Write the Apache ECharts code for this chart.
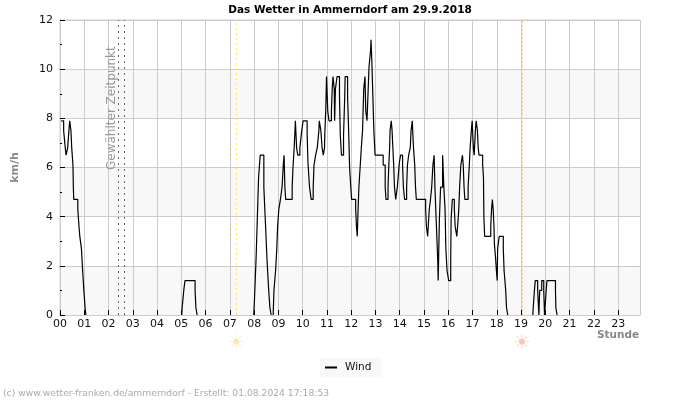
<!DOCTYPE html>
<html><head><meta charset="utf-8">
<script src="https://cdn.jsdelivr.net/npm/echarts@6/dist/echarts.min.js"></script>
<style>html,body{margin:0;padding:0;background:#fff}#c{width:700px;height:400px}</style>
</head><body><div id="c"></div>
<script>
const title = 'Das Wetter in Ammerndorf am 29.9.2018';
const credit = '(c) www.wetter-franken.de/ammerndorf - Erstellt: 01.08.2024 17:18:53';
// [minute of day, wind km/h]; null = calm, no line drawn
const windNight = [[3,7.9],[9,7.5],[13,6.8],[15,6.5],[19,6.8],[22,7.5],[24,7.9],[27,7.5],[29,6.8],[32,6.1],[33,5.2],[34,4.7],[44,4.3],[47,3.6],[49,3.2],[53,2.7],[56,1.8],[59,1.0],[62,0.3],[64,0],[65,null],
 [301,0],[302,0.3],[306,1.0],[309,1.4],[334,1.0],[336,0.3],[339,0],[340,null]];
const windMorning = [[479,0],[481,0.7],[485,2.4],[488,4.0],[491,5.6],[495,6.5],[504,5.2],[508,3.7],[512,2.2],[516,1.0],[519,0.3],[522,0],[523,null],
 [527,0],[529,1.0],[533,1.8],[536,2.7],[538,3.6],[541,4.3],[545,4.7],[549,5.2],[552,6.1],[554,6.5],[556,5.2],[558,4.7],[574,5.2],[576,6.0],[579,6.8],[582,7.9],[585,6.8],[588,6.5],[593,6.8],[597,7.4],[601,7.9],[611,7.4],[613,6.2],[617,5.2],[621,4.7],[626,5.2],[628,6.1],[632,6.5],[636,6.8],[640,7.5],[641,7.9]];
const windNoon = [[645,7.5],[648,6.8],[651,6.5],[654,6.8],[655,7.5],[657,8.3],[659,9.7],[660,9.2],[662,8.3],[665,7.9],[671,8.3],[673,9.2],[675,9.7],[678,9.2],[679,7.9],[681,9.2],[685,9.7],[691,8.9],[693,7.3],[696,6.5],[701,7.3],[704,8.9],[705,9.7],[711,8.9],[714,7.3],[716,6.0],[719,5.2],[721,4.7],[731,4.3],[733,3.6],[735,3.2],[737,4.3],[739,5.2],[742,6.0],[745,6.8],[748,7.5],[751,9.2],[754,9.7],[756,8.3],[759,7.9],[762,9.2],[764,10.1],[768,10.8],[769,11.2],[771,10.3],[773,9.2],[776,7.5],[779,6.5]];
const windAfternoon = [[799,6.1],[804,5.2],[806,4.7],[811,5.2],[813,6.1],[815,6.8],[816,7.5],[819,7.9],[821,7.5],[823,6.8],[825,6.1],[827,5.2],[830,4.7],[834,5.2],[836,5.6],[839,6.2],[842,6.5],[847,6.1],[849,5.2],[852,4.7],[857,5.2],[859,6.1],[862,6.5],[866,6.8],[868,7.5],[871,7.9],[872,7.5],[874,6.8],[877,6.1],[879,5.2],[881,4.7],
 [904,4.3],[906,3.6],[909,3.2],[913,4.3],[916,4.7],[919,5.2],[922,6.1],[925,6.5],[927,5.2],[930,3.9],[934,2.2],[935,1.4],[936,2.2],[938,3.9],[941,5.2],[946,6.5],[947,6.1],[949,5.2],[952,4.3],[954,2.7],[957,1.8],[961,1.4],
 [966,2.3],[967,3.9],[970,4.7],[975,4.3],[977,3.6],[981,3.2],[983,3.6],[986,4.3],[988,5.2],[991,6.1],[995,6.5],[997,6.1],[999,5.2],[1001,4.7],[1009,5.2],[1012,6.1],[1014,6.8],[1017,7.5],[1019,7.9],[1022,6.8],[1024,6.5],[1027,7.5],[1029,7.9],[1032,7.5],[1034,6.8],[1036,6.5]];
const windEvening = [[1045,6.1],[1047,5.6],[1048,4.0],[1050,3.2],[1065,3.6],[1067,4.3],[1069,4.7],[1071,4.3],[1073,3.6],[1074,2.9],[1077,2.3],[1079,1.8],[1081,1.4],[1082,2.7],[1086,3.2],[1096,2.7],[1098,1.8],[1102,1.0],[1104,0.3],[1107,0],[1108,null],
 [1169,0],[1170,0.3],[1173,1.0],[1175,1.4],[1181,1.0],[1184,0],[1186,1.0],[1189,1.0],[1191,1.4],[1196,1.0],[1198,0],[1202,1.0],[1204,1.4],[1225,1.0],[1226,0.3],[1229,0],[1230,null]];
const selectedMinutes = [145, 160];
const sunriseMinute = 436;
const sunsetMinute = 1142;
const yTicks = [0, 12, 2];

const sunPath = 'path://M50 28a22 22 0 1 0 .01 0zM47 0h6v18h-6zM47 82h6v18h-6zM0 47h18v6H0zM82 47h18v6H82zM13 17l4-4 13 13-4 4zM70 74l4-4 13 13-4 4zM13 83l13-13 4 4-13 13zM70 26l13-13 4 4-13 13z';
const pad = v => String(v).padStart(2, '0');
const chart = echarts.init(document.getElementById('c'), null, {renderer: 'canvas'});
const FONT = '"DejaVu Sans"';

chart.setOption({
  animation: false,
  backgroundColor: '#fff',
  textStyle: {fontFamily: FONT},
  title: {
    text: title, left: 345, textAlign: 'center', top: 0,
    textStyle: {fontSize: 10.5, fontWeight: 'bold', color: '#000', fontFamily: FONT}
  },
  legend: {
    data: ['Wind'], left: 320, top: 358, padding: [4, 10, 4, 5],
    backgroundColor: '#f8f8f8', icon: 'rect', itemWidth: 12, itemHeight: 2, itemGap: 0,
    textStyle: {fontSize: 10.5, color: '#111', fontFamily: FONT, padding: [0, 0, 0, 3]}
  },
  grid: {left: 60, right: 60, top: 20, bottom: 85, show: true, borderColor: '#ccc', borderWidth: 1},
  xAxis: {
    type: 'value', min: 0, max: 1434, interval: 60,
    name: 'Stunde', nameLocation: 'end', nameGap: -43,
    nameTextStyle: {fontSize: 10.5, fontWeight: 'bold', color: '#888', fontFamily: FONT,
      align: 'left', verticalAlign: 'top', padding: [15, 0, 0, 0]},
    axisLine: {show: true, lineStyle: {color: '#ccc'}},
    axisTick: {show: true, inside: true, length: 5, lineStyle: {color: '#000'}},
    axisLabel: {showMaxLabel: false, fontSize: 11, color: '#111', margin: 4, fontFamily: FONT,
      formatter: v => v % 60 === 0 ? pad(v / 60) : ''},
    splitLine: {show: true, lineStyle: {color: '#ccc'}}
  },
  yAxis: {
    type: 'value', min: yTicks[0], max: yTicks[1], interval: yTicks[2],
    name: 'km/h', nameLocation: 'middle', nameRotate: 90, nameGap: 39,
    nameTextStyle: {fontSize: 11, fontWeight: 'bold', color: '#888', fontFamily: FONT},
    axisLine: {show: true, lineStyle: {color: '#ccc'}},
    axisTick: {show: true, inside: true, length: 5, lineStyle: {color: '#000'}},
    minorTick: {show: true, splitNumber: 2, length: 2, lineStyle: {color: '#000'}},
    axisLabel: {fontSize: 11, color: '#111', margin: 7, fontFamily: FONT},
    splitLine: {show: true, lineStyle: {color: '#ccc'}},
    splitArea: {show: true, areaStyle: {color: ['#f8f8f8', '#ffffff']}}
  },
  series: [
    {
      name: 'Wind', type: 'line', step: 'end', showSymbol: false, symbol: 'none',
      connectNulls: false, clip: true,
      lineStyle: {color: '#000', width: 1.2}, itemStyle: {color: '#000'},
      data: [...windNight, ...windMorning, ...windNoon, ...windAfternoon, ...windEvening],
      markLine: {
        silent: true, symbol: 'none', animation: false, label: {show: false},
        data: [
          ...selectedMinutes.map(m => ({xAxis: m, lineStyle: {color: '#666', width: 1, type: [2, 4]}})),
          {xAxis: sunriseMinute, lineStyle: {color: '#fbe74f', width: 1, type: [2, 3]}},
          {xAxis: sunsetMinute, lineStyle: {color: '#f3cfa0', width: 1, type: [2, 2]}}
        ]
      }
    },
    {
      name: 'Sonne', type: 'scatter', clip: false, silent: true, symbol: sunPath, symbolSize: 14,
      data: [
        {value: [sunriseMinute, -1.08], itemStyle: {color: '#fde39a'}},
        {value: [sunsetMinute, -1.08], itemStyle: {color: '#fdb7a2'}}
      ]
    }
  ],
  graphic: [
    {type: 'text', x: 3, y: 389, z: 10, silent: true,
     style: {text: credit, fill: '#aaa', font: '9.2px ' + FONT}},
    {type: 'text', x: 106, y: 170, z: 10, rotation: Math.PI / 2, silent: true,
     style: {text: 'Gewählter Zeitpunkt', fill: '#999', font: '12px ' + FONT}}
  ]
});
</script></body></html>
